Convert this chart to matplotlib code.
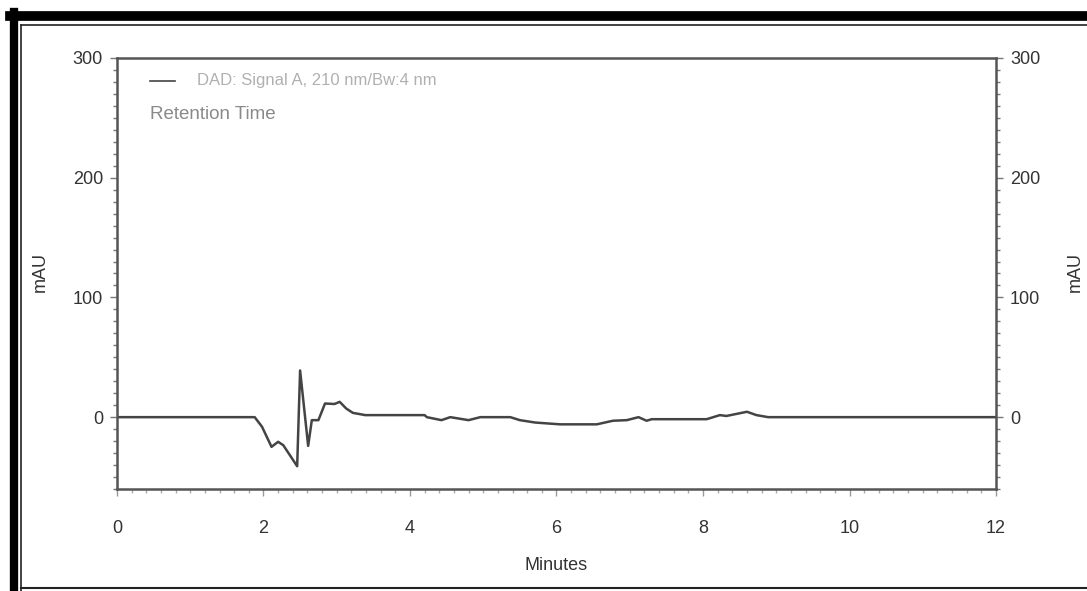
import matplotlib
matplotlib.use("Agg")
from matplotlib import pyplot as plt
from matplotlib.ticker import MultipleLocator, FixedLocator
from matplotlib.lines import Line2D

plt.rcParams['font.family'] = ['Liberation Sans', 'DejaVu Sans']

# DAD signal trace, minutes vs mAU
minutes = [0.0, 1.88, 1.98, 2.11, 2.20, 2.27, 2.36, 2.46, 2.50, 2.61, 2.66,
           2.75, 2.84, 2.97, 3.04, 3.13, 3.22, 3.39, 4.20, 4.23, 4.43, 4.55,
           4.80, 4.96, 5.37, 5.50, 5.71, 6.05, 6.55, 6.77, 6.96, 7.12, 7.23,
           7.30, 8.05, 8.23, 8.32, 8.60, 8.73, 8.89, 12.0]
signal = [0.0, 0.0, -8.0, -24.8, -20.6, -23.4, -31.7, -41.0, 39.0, -24.0, -2.5,
          -2.5, 11.4, 11.0, 12.8, 7.2, 3.6, 1.7, 1.7, 0.0, -2.5, 0.0,
          -2.5, 0.0, 0.0, -2.5, -4.5, -6.0, -6.0, -3.0, -2.5, 0.0, -3.0,
          -1.7, -1.7, 1.7, 1.0, 4.5, 1.7, 0.0, 0.0]

x_major = [0, 2, 4, 6, 8, 10, 12]
y_major = [0, 100, 200, 300]

fig = plt.figure(figsize=(10.87, 5.91), dpi=100)
ax = fig.add_axes([0.1076, 0.1726, 0.8087, 0.7293])

ax.plot(minutes, signal, color='#444444', linewidth=1.8)
ax.set_xlim(0, 12)
ax.set_ylim(-60, 300)

for side in ['left', 'right', 'top', 'bottom']:
    ax.spines[side].set_color('#555555')
    ax.spines[side].set_linewidth(1.8)

# x ticks: labels every 2 min, small marks every 0.2 min
ax.xaxis.set_major_locator(FixedLocator(x_major))
ax.xaxis.set_minor_locator(MultipleLocator(0.2))
ax.tick_params(axis='x', which='major', direction='out', length=5, width=1,
               color='#999999', pad=17, labelsize=13, labelcolor='#333333')
ax.tick_params(axis='x', which='minor', direction='out', length=3, width=1,
               color='#aaaaaa')

# y ticks on both sides
ax.yaxis.set_major_locator(FixedLocator(y_major))
ax.yaxis.set_minor_locator(MultipleLocator(10))
ax.tick_params(axis='y', which='both', left=True, right=True,
               labelleft=True, labelright=True)
ax.tick_params(axis='y', which='major', direction='out', length=5, width=1,
               color='#777777', pad=5, labelsize=13, labelcolor='#333333')
ax.tick_params(axis='y', which='minor', direction='out', length=3, width=1,
               color='#777777')

ax.set_xlabel('Minutes', fontsize=13, color='#333333', labelpad=15)
fig.text(0.037, 0.54, 'mAU', rotation=90, fontsize=13, color='#333333',
         ha='center', va='center')
fig.text(0.989, 0.54, 'mAU', rotation=90, fontsize=13, color='#333333',
         ha='center', va='center')

# legend entry and caption
ax.plot([0.45, 0.79], [281, 281], color='#444444', linewidth=1.2)
ax.text(1.09, 281, 'DAD: Signal A, 210 nm/Bw:4 nm', fontsize=12,
        color='#b0b0b0', va='center')
ax.text(0.45, 253, 'Retention Time', fontsize=13.5, color='#8a8a8a',
        va='center')

# heavy frame round the figure
fig.add_artist(Line2D([0.0125, 0.0125], [0.0, 0.98], color='black',
                      linewidth=6, transform=fig.transFigure))
fig.add_artist(Line2D([0.0095, 1.0], [0.973, 0.973], color='black',
                      linewidth=7, transform=fig.transFigure))
fig.add_artist(Line2D([0.019, 0.019], [0.0, 0.958], color='#222222',
                      linewidth=1.2, transform=fig.transFigure))
fig.add_artist(Line2D([0.019, 1.0], [0.958, 0.958], color='#222222',
                      linewidth=1.2, transform=fig.transFigure))
fig.add_artist(Line2D([0.019, 1.0], [0.005, 0.005], color='#222222',
                      linewidth=1.5, transform=fig.transFigure))

fig.savefig('out.png', dpi=100)
